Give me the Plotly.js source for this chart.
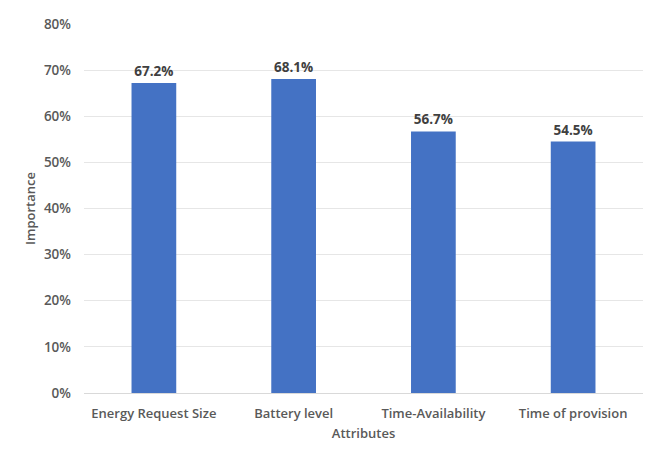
<!DOCTYPE html>
<html>
<head>
<meta charset="utf-8">
<script src="https://cdn.plot.ly/plotly-3.0.1.min.js"></script>
<style>
  body { margin: 0; background: #fff; }
  #chart { width: 664px; height: 470px; }
</style>
</head>
<body>
<div id="chart"></div>
<script>
// attributes and their importance (fractions)
const attributes = ['Energy Request Size', 'Battery level', 'Time-Availability', 'Time of provision']
const importance = [0.672, 0.681, 0.567, 0.545]
const yTicks = [0, 0.1, 0.2, 0.3, 0.4, 0.5, 0.6, 0.7, 0.8]

const fontFam = 'Open Sans, Noto Sans, sans-serif'

const trace = {
    x: attributes,
    y: importance,
    type: 'bar',
    marker: { color: '#4472C4' },
    text: importance.map(v => (v * 100).toFixed(1) + '%'),
    textposition: 'outside',
    cliponaxis: false,
    textfont: { family: fontFam, size: 13.5, color: '#404040', weight: 'bold' },
    hoverinfo: 'none'
}

const layout = {
    width: 664,
    height: 470,
    margin: { l: 84, r: 21, t: 24, b: 77 },
    paper_bgcolor: '#fff',
    plot_bgcolor: '#fff',
    bargap: 0.68,
    showlegend: false,
    font: { family: fontFam, color: '#595959' },
    xaxis: {
        title: { text: 'Attributes', font: { size: 13, color: '#595959', weight: 600 }, standoff: 8 },
        tickfont: { size: 13, color: '#595959', weight: 600 },
        showline: true,
        linecolor: '#d9d9d9',
        ticks: '',
        ticklabelstandoff: 8,
        fixedrange: true
    },
    yaxis: {
        title: { text: 'Importance', font: { size: 13, color: '#595959', weight: 600 }, standoff: 5 },
        range: [0, 0.8],
        tickvals: yTicks,
        ticktext: yTicks.map(v => Math.round(v * 100) + '%'),
        tickfont: { size: 13.5, color: '#595959', weight: 600 },
        gridcolor: '#e6e6e6',
        zeroline: false,
        ticks: '',
        ticklabelstandoff: 12,
        fixedrange: true
    }
}

Plotly.newPlot('chart', [trace], layout, { displayModeBar: false, staticPlot: true })
</script>
</body>
</html>
